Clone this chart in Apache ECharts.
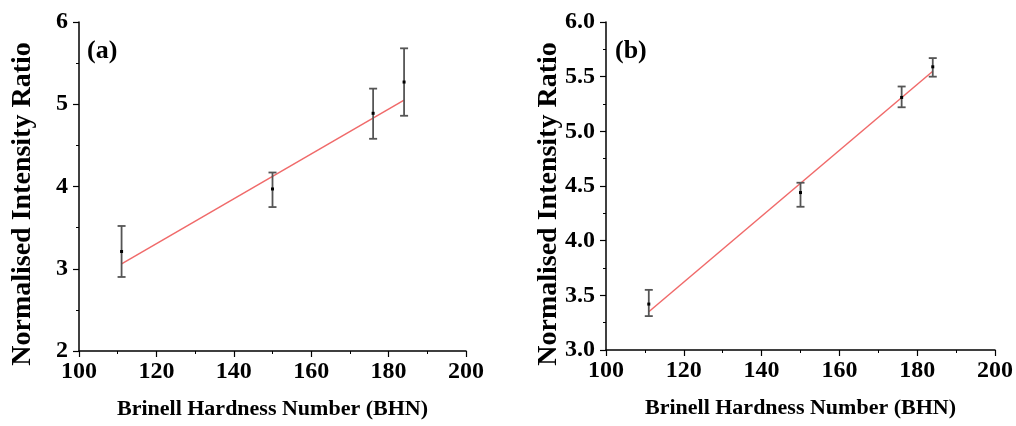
<!DOCTYPE html>
<html>
<head>
<meta charset="utf-8">
<script src="https://cdn.jsdelivr.net/npm/echarts@6/dist/echarts.min.js"></script>
<style>html,body{margin:0;padding:0;background:#fff}#c{width:1016px;height:426px}</style>
</head>
<body>
<div id="c"></div>
<script>
// Data
const hardness = [111, 150, 176, 184];
const ratioA = [3.21, 3.97, 4.89, 5.27];
const errLowA = [2.90, 3.75, 4.58, 4.86];
const errHighA = [3.52, 4.17, 5.19, 5.68];
const fitXA = [111, 184];
const fitYA = [3.06, 5.05];
const ratioB = [3.42, 4.44, 5.31, 5.59];
const errLowB = [3.31, 4.31, 5.22, 5.50];
const errHighB = [3.55, 4.53, 5.41, 5.67];
const fitXB = [111, 184];
const fitYB = [3.35, 5.55];
const xTitle = 'Brinell Hardness Number (BHN)';
const yTitle = 'Normalised Intensity Ratio';

const FONT = "'Liberation Serif', 'Times New Roman', serif";

function xAxis(gi) {
  return {
    gridIndex: gi, type: 'value', min: 100, max: 200, interval: 20,
    name: xTitle, nameLocation: 'middle', nameGap: 47,
    nameTextStyle: {fontFamily: FONT, fontWeight: 'bold', fontSize: 22, color: '#000'},
    axisLine: {show: true, lineStyle: {color: '#000', width: 1.5}},
    axisTick: {show: true, inside: false, length: 6, lineStyle: {color: '#000', width: 1.2}},
    minorTick: {show: true, splitNumber: 2, length: 3, lineStyle: {color: '#000', width: 1}},
    axisLabel: {fontFamily: FONT, fontWeight: 'bold', fontSize: 24, color: '#000', margin: 9},
    splitLine: {show: false}
  };
}
function yAxis(gi, min, max, interval, fmt) {
  return {
    gridIndex: gi, type: 'value', min: min, max: max, interval: interval,
    axisLine: {show: true, lineStyle: {color: '#000', width: 1.5}},
    axisTick: {show: true, inside: false, length: 6, lineStyle: {color: '#000', width: 1.2}},
    minorTick: {show: true, splitNumber: 2, length: 3, lineStyle: {color: '#000', width: 1}},
    axisLabel: {fontFamily: FONT, fontWeight: 'bold', fontSize: 24, color: '#000', margin: 11, formatter: fmt},
    splitLine: {show: false}
  };
}

function errSeries(idx, low, high, mid) {
  const data = hardness.map((x, i) => [x, low[i], high[i], mid[i]]);
  return {
    type: 'custom', xAxisIndex: idx, yAxisIndex: idx, data: data, z: 5,
    renderItem: function (params, api) {
      const x = api.value(0);
      const lo = api.coord([x, api.value(1)]);
      const hi = api.coord([x, api.value(2)]);
      const md = api.coord([x, api.value(3)]);
      const cw = 4;
      const st = {stroke: '#555', lineWidth: 1.8};
      return {
        type: 'group',
        children: [
          {type: 'line', shape: {x1: hi[0], y1: hi[1], x2: lo[0], y2: lo[1]}, style: st},
          {type: 'line', shape: {x1: hi[0] - cw, y1: hi[1], x2: hi[0] + cw, y2: hi[1]}, style: st},
          {type: 'line', shape: {x1: lo[0] - cw, y1: lo[1], x2: lo[0] + cw, y2: lo[1]}, style: st},
          {type: 'rect', shape: {x: md[0] - 1.5, y: md[1] - 1.5, width: 3, height: 3}, style: {fill: '#000'}}
        ]
      };
    }
  };
}

const yTitleStyle = {text: yTitle, fontFamily: FONT, fontWeight: 'bold', fontSize: 28, fill: '#000',
  textAlign: 'center', textVerticalAlign: 'middle'};

const chart = echarts.init(document.getElementById('c'), null, {renderer: 'canvas'});
chart.setOption({
  animation: false,
  backgroundColor: '#fff',
  grid: [
    {left: 79, top: 22, width: 387, height: 329},
    {left: 606, top: 22, width: 390, height: 328}
  ],
  xAxis: [xAxis(0), xAxis(1)],
  yAxis: [
    yAxis(0, 2, 6, 1, v => String(v)),
    yAxis(1, 3, 6, 0.5, v => v.toFixed(1))
  ],
  graphic: [
    {type: 'text', left: 87, top: 38, style: {text: '(a)', fontFamily: FONT, fontWeight: 'bold', fontSize: 26, fill: '#000'}},
    {type: 'text', left: 615, top: 38, style: {text: '(b)', fontFamily: FONT, fontWeight: 'bold', fontSize: 26, fill: '#000'}},
    {type: 'text', x: 23, y: 204, rotation: Math.PI / 2, style: yTitleStyle},
    {type: 'text', x: 549, y: 204, rotation: Math.PI / 2, style: yTitleStyle}
  ],
  series: [
    {type: 'line', xAxisIndex: 0, yAxisIndex: 0, data: fitXA.map((x, i) => [x, fitYA[i]]), symbol: 'none',
     lineStyle: {color: '#f06a6a', width: 1.5}, z: 3},
    errSeries(0, errLowA, errHighA, ratioA),
    {type: 'line', xAxisIndex: 1, yAxisIndex: 1, data: fitXB.map((x, i) => [x, fitYB[i]]), symbol: 'none',
     lineStyle: {color: '#f06a6a', width: 1.5}, z: 3},
    errSeries(1, errLowB, errHighB, ratioB)
  ]
});
</script>
</body>
</html>
